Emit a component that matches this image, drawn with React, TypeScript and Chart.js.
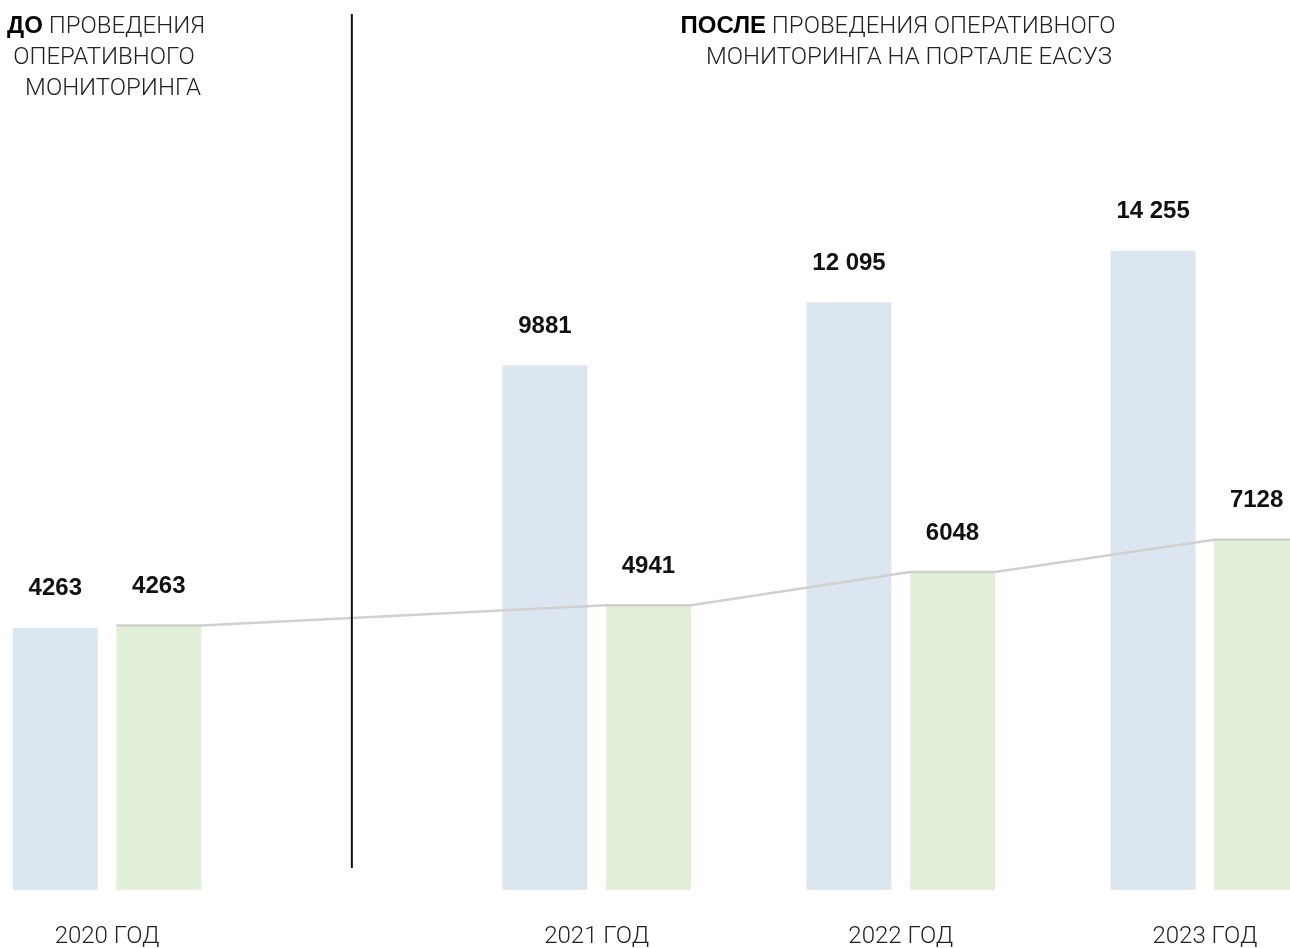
import React, { useEffect, useRef } from "react";
import { Chart, registerables } from "chart.js";

Chart.register(...registerables);

// ---- data ----
const yearLabels = ["2020 ГОД", "2021 ГОД", "2022 ГОД", "2023 ГОД"];
const totalValues = [4263, 9881, 12095, 14255];
const halfValues = [4263, 4941, 6048, 7128];

// ---- layout / style ----
const BEFORE_AFTER_GAP = 0.61; // extra space (in category units) between "before" and "after"
const BLUE = "#dce6f1";
const GREEN = "#e2efd9";
const LINE_COLOR = "#d0d0d0";
const LIGHT_FONT = "Roboto, 'Noto Sans', sans-serif";
const BOLD_FONT = "'Liberation Sans', Arial, sans-serif";
const TEXT_COLOR = "#222";

const TOTAL_MIN = 1838;
const TOTAL_MAX = 31846;
const HALF_MIN = -4563;
const HALF_MAX = 25130;

const xPositions = yearLabels.map((_, i) => i + (i > 0 ? BEFORE_AFTER_GAP : 0));

const formatValue = (v: number) =>
  v >= 10000 ? String(v).replace(/\B(?=(\d{3})+(?!\d))/g, " ") : String(v);

const overlayPlugin = {
  id: "overlay",
  afterDatasetsDraw(chart: any) {
    const ctx = chart.ctx;
    const blueMeta = chart.getDatasetMeta(0);
    const greenMeta = chart.getDatasetMeta(1);
    ctx.save();
    // connecting line over green bar tops
    ctx.strokeStyle = LINE_COLOR;
    ctx.lineWidth = 2.5;
    ctx.lineJoin = "round";
    ctx.beginPath();
    greenMeta.data.forEach((el: any, i: number) => {
      const l = el.x - el.width / 2;
      const r = el.x + el.width / 2;
      if (i === 0) ctx.moveTo(l, el.y);
      else ctx.lineTo(l, el.y);
      ctx.lineTo(r, el.y);
    });
    ctx.stroke();
    // separator between before / after
    const g0 = greenMeta.data[0];
    const b1 = blueMeta.data[1];
    const sx = (g0.x + g0.width / 2 + (b1.x - b1.width / 2)) / 2;
    ctx.strokeStyle = "#111";
    ctx.lineWidth = 2;
    ctx.beginPath();
    ctx.moveTo(sx, 14);
    ctx.lineTo(sx, 868);
    ctx.stroke();
    // value labels
    ctx.fillStyle = "#111";
    ctx.font = `bold 24px ${BOLD_FONT}`;
    ctx.textAlign = "center";
    ctx.textBaseline = "middle";
    [blueMeta, greenMeta].forEach((meta: any, di: number) => {
      const vals = di === 0 ? totalValues : halfValues;
      meta.data.forEach((el: any, i: number) => {
        ctx.fillText(formatValue(vals[i]), el.x, el.y - 39);
      });
    });
    ctx.restore();
  },
};

export default function App() {
  const canvasRef = useRef<HTMLCanvasElement | null>(null);

  useEffect(() => {
    if (!canvasRef.current) return;
    const chart = new Chart(canvasRef.current, {
      type: "bar",
      data: {
        datasets: [
          {
            label: "Всего",
            data: totalValues.map((v, i) => ({ x: xPositions[i], y: v })),
            backgroundColor: BLUE,
            yAxisID: "yTotal",
            categoryPercentage: 0.6807,
            barPercentage: 0.8213,
          },
          {
            label: "Половина",
            data: halfValues.map((v, i) => ({ x: xPositions[i], y: v })),
            backgroundColor: GREEN,
            yAxisID: "yHalf",
            base: HALF_MIN,
            categoryPercentage: 0.6807,
            barPercentage: 0.8213,
          },
        ] as any,
      },
      options: {
        animation: false,
        responsive: true,
        maintainAspectRatio: false,
        layout: { padding: 0 },
        plugins: { legend: { display: false }, tooltip: { enabled: false } },
        scales: {
          x: {
            type: "linear",
            offset: false,
            min: -0.352,
            max: 3.89,
            bounds: "data",
            grid: { display: false, drawTicks: false, offset: false },
            border: { display: false },
            afterBuildTicks: (scale: any) => {
              scale.ticks = xPositions.map((v) => ({ value: v }));
            },
            ticks: {
              autoSkip: false,
              maxRotation: 0,
              padding: 32,
              color: TEXT_COLOR,
              font: { family: LIGHT_FONT, size: 24, weight: "300" },
              callback: (_v: any, i: number) => yearLabels[i],
            },
          },
          yTotal: {
            type: "logarithmic",
            display: false,
            min: TOTAL_MIN,
            max: TOTAL_MAX,
            bounds: "data",
          },
          yHalf: {
            type: "linear",
            display: false,
            min: HALF_MIN,
            max: HALF_MAX,
            bounds: "data",
          },
        } as any,
      },
      plugins: [overlayPlugin],
    });
    return () => chart.destroy();
  }, []);

  const lightStyle: React.CSSProperties = {
    position: "absolute",
    textAlign: "center",
    fontFamily: LIGHT_FONT,
    fontWeight: 300,
    fontSize: 24,
    lineHeight: "31px",
    color: TEXT_COLOR,
    whiteSpace: "nowrap",
  };
  const boldStyle: React.CSSProperties = { fontWeight: 700, fontFamily: BOLD_FONT, color: "#000" };

  return (
    <div
      style={{
        position: "absolute",
        left: 0,
        top: 0,
        width: 1290,
        height: 948,
        overflow: "hidden",
        background: "#fff",
      }}
    >
      <div style={{ position: "absolute", left: 0, top: 0, width: 1290, height: 983 }}>
        <canvas ref={canvasRef} />
      </div>
      <div style={{ ...lightStyle, left: 106 - 150, width: 300, top: 9 }}>
        <div>
          <b style={boldStyle}>ДО</b> ПРОВЕДЕНИЯ
        </div>
        <div style={{ marginLeft: -4 }}>ОПЕРАТИВНОГО</div>
        <div style={{ marginLeft: 14 }}>МОНИТОРИНГА</div>
      </div>
      <div style={{ ...lightStyle, left: 898 - 300, width: 600, top: 9 }}>
        <div>
          <b style={boldStyle}>ПОСЛЕ</b> ПРОВЕДЕНИЯ ОПЕРАТИВНОГО
        </div>
        <div style={{ marginLeft: 22 }}>МОНИТОРИНГА НА ПОРТАЛЕ ЕАСУЗ</div>
      </div>
    </div>
  );
}
